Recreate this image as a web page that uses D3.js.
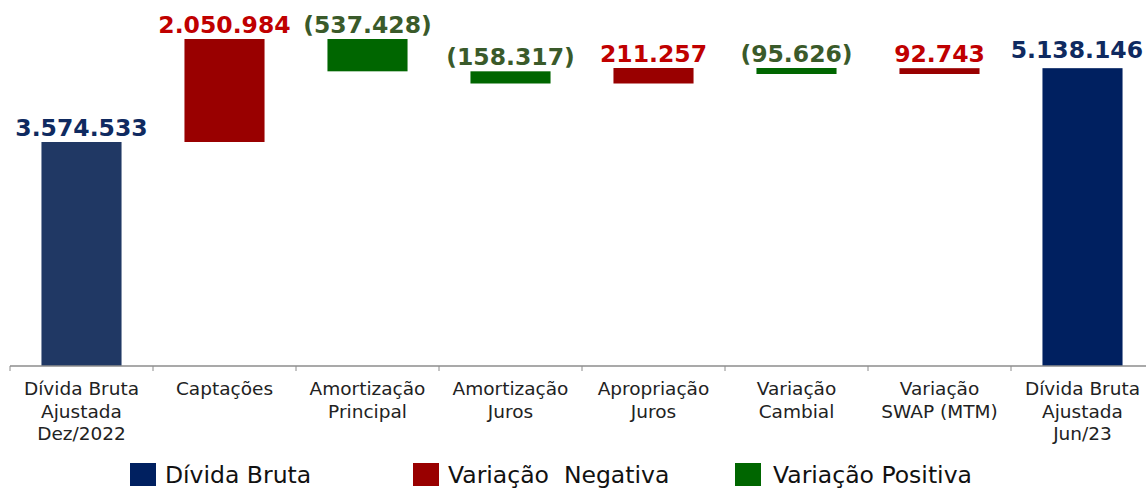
<!DOCTYPE html>
<html><head><meta charset="utf-8">
<script src="https://cdn.jsdelivr.net/npm/d3@7"></script>
<style>
html,body{margin:0;padding:0;background:#fff;}
svg{display:block;}
</style></head>
<body>
<svg id="chart" width="1146" height="489"></svg>
<script>
// ---- data ----
const categories = [
  "Dívida Bruta|Ajustada|Dez/2022",
  "Captações",
  "Amortização|Principal",
  "Amortização|Juros",
  "Apropriação|Juros",
  "Variação|Cambial",
  "Variação|SWAP (MTM)",
  "Dívida Bruta|Ajustada|Jun/23"
];
const values = [3574533, 2050984, -537428, -158317, 211257, -95626, 92743, 5138146];
const isTotal = [true, false, false, false, false, false, false, true];
const legendLabels = ["Dívida Bruta", "Variação  Negativa", "Variação Positiva"];

// ---- styles ----
const totalFills = ["#203864", "#002060"];
const negFill = "#990000", posFill = "#006600";
const totalText = "#0f2a60", negText = "#c00000", posText = "#3a5a2a";
const FONT = "'DejaVu Sans', sans-serif";
const W = 1146;

const svg = d3.select("#chart");
const baseY = 366;

// waterfall geometry
let run = 0;
const bars = values.map((v, i) => {
  let start, end;
  if (isTotal[i]) { start = 0; end = v; run = v; }
  else { start = run; end = run + v; run = end; }
  return {i, v, start, end, total: isTotal[i], cat: categories[i]};
});

const x = d3.scaleBand().domain(categories).range([10, 10 + 8 * 143])
  .paddingInner(0.44).paddingOuter(0.22);

// polylinear value scale following the reference's (non-uniform) layout
const y = d3.scaleLinear()
  .domain([0, 3574533, 4929772, 5045403, 5141029, 5625517])
  .range([baseY, 142, 83.5, 74, 68, 39]);

const loc = d3.formatLocale({decimal: ",", thousands: ".", grouping: [3], currency: ["R$", ""]});
const fmt = loc.format(",d");
const label = v => v < 0 ? "(" + fmt(-v) + ")" : fmt(v);

svg.append("g").selectAll("rect").data(bars).join("rect")
  .attr("x", d => x(d.cat))
  .attr("width", x.bandwidth())
  .attr("y", d => y(Math.max(d.start, d.end)))
  .attr("height", d => y(Math.min(d.start, d.end)) - y(Math.max(d.start, d.end)))
  .attr("fill", d => d.total ? totalFills[d.i === 0 ? 0 : 1] : (d.v > 0 ? negFill : posFill));

svg.append("g").selectAll("text").data(bars).join("text")
  .attr("x", d => x(d.cat) + x.bandwidth() / 2)
  .attr("y", d => y(Math.max(d.start, d.end)) - (d.total && d.i > 0 ? 10 : 6))
  .attr("text-anchor", "middle")
  .attr("font-family", FONT)
  .attr("font-weight", "bold")
  .attr("font-size", 23.5)
  .attr("fill", d => d.total ? totalText : (d.v > 0 ? negText : posText))
  .text(d => label(d.v))
  .each(function(d) {
    // keep labels inside the canvas
    const w = this.getComputedTextLength();
    const cx = x(d.cat) + x.bandwidth() / 2;
    const maxC = W - 3 - w / 2;
    if (cx > maxC) d3.select(this).attr("x", maxC);
  });

// axis
const axisG = svg.append("g");
axisG.append("line").attr("x1", 10).attr("x2", W).attr("y1", baseY).attr("y2", baseY)
  .attr("stroke", "#8c8c8c").attr("stroke-width", 1.5);
const step = x.step();
axisG.selectAll("line.tick").data(categories.concat(["end"])).join("line")
  .attr("class", "tick")
  .attr("x1", (d, i) => 10 + i * step).attr("x2", (d, i) => 10 + i * step)
  .attr("y1", baseY).attr("y2", baseY + 5)
  .attr("stroke", "#8c8c8c").attr("stroke-width", 1);

const catG = svg.append("g").selectAll("text").data(categories).join("text")
  .attr("x", d => x(d) + x.bandwidth() / 2)
  .attr("y", 395)
  .attr("text-anchor", "middle")
  .attr("font-family", FONT)
  .attr("font-size", 18.5)
  .attr("fill", "#222");
catG.each(function(d) {
  const t = d3.select(this);
  d.split("|").forEach((line, k) => {
    t.append("tspan").attr("x", x(d) + x.bandwidth() / 2).attr("dy", k === 0 ? 0 : 22.5).text(line);
  });
});

// legend
const legendX = [130, 413, 735];
const legendFills = ["#002060", negFill, posFill];
const lg = svg.append("g").selectAll("g").data(legendLabels).join("g")
  .attr("transform", (d, i) => `translate(${legendX[i]},463)`);
lg.append("rect").attr("width", 26).attr("height", 23).attr("fill", (d, i) => legendFills[i]);
lg.append("text").attr("x", (d, i) => i === 2 ? 38 : 35).attr("y", 20)
  .attr("font-family", FONT).attr("font-size", 23.5).attr("fill", "#111")
  .attr("xml:space", "preserve").style("white-space", "pre")
  .text(d => d);
</script>
</body></html>
